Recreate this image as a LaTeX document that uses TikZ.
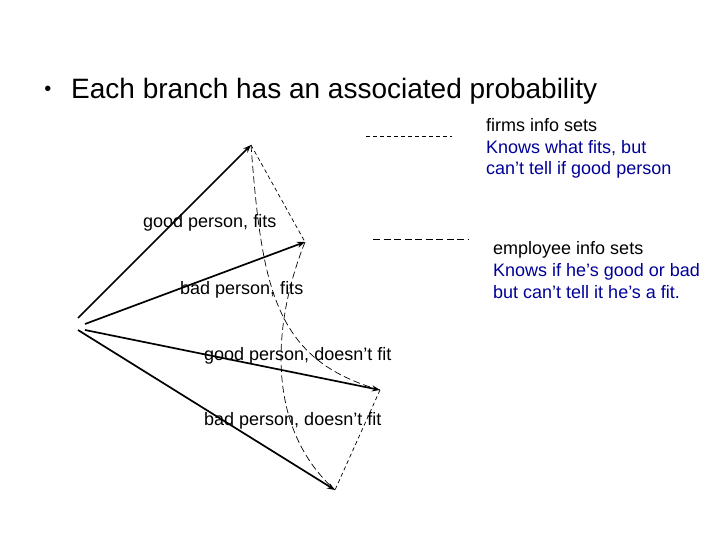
\documentclass[tikz,border=0pt]{standalone}
\usepackage{fontspec}
\setmainfont{Liberation Sans}
\usetikzlibrary{arrows.meta}
\definecolor{legblue}{RGB}{0,0,153}
\begin{document}
\begin{tikzpicture}[x=1bp,y=-1bp,
  branch/.style={line width=1.7bp,-{Stealth[length=8bp,width=6bp]}},
  firmset/.style={line width=0.7bp,dash pattern=on 4bp off 3bp},
  empset/.style={line width=0.7bp,dash pattern=on 7bp off 3.5bp},
  lbl/.style={anchor=base west,inner sep=0pt,font=\fontsize{18bp}{21.5bp}\selectfont},
  leg/.style={lbl,text=legblue}]
\useasboundingbox (0,0) rectangle (720,540);
% title
\node[inner sep=0pt,anchor=base] (bul) at (48,96) {\fontsize{20bp}{20bp}\selectfont •};
\node[anchor=base west,inner sep=0pt,font=\fontsize{28bp}{32bp}\selectfont] (title) at (71,99) {Each branch has an associated probability};
% decision points
\coordinate (r1) at (78,318);
\coordinate (r2) at (85,324);
\coordinate (r3) at (85,330);
\coordinate (r4) at (78,330);
\coordinate (gf) at (251,145);
\coordinate (bf) at (305,242);
\coordinate (gn) at (380,390);
\coordinate (bn) at (335,490);
% branches
\draw[branch] (r1) -- (gf);
\draw[branch] (r2) -- (bf);
\draw[branch] (r3) -- (gn);
\draw[branch] (r4) -- (bn);
% information sets
\draw[firmset] (gf) -- (bf);
\draw[firmset] (gn) -- (bn);
\draw[empset] (gf) .. controls (262,290) and (275,360) .. (gn);
\draw[empset] (bf) .. controls (270,330) and (268,430) .. (bn);
% branch labels
\node[lbl] (l1) at (143,228) {good person, fits};
\node[lbl] (l2) at (180,294) {bad person, fits};
\node[lbl] (l3) at (204,360) {good person, doesn’t fit};
\node[lbl] (l4) at (204,425) {bad person, doesn’t fit};
% legend
\coordinate (fa) at (366,136);
\coordinate (fb) at (452,136);
\coordinate (ea) at (373,239);
\coordinate (eb) at (468,239);
\draw[firmset] (fa) -- (fb);
\draw[empset] (ea) -- (eb);
\node[lbl] (ft1) at (486,132) {firms info sets};
\node[leg] (ft2) at (486,153.5) {Knows what fits, but};
\node[leg] (ft3) at (486,175) {can’t tell if good person};
\node[lbl] (et1) at (493,255) {employee info sets};
\node[leg] (et2) at (493,276.5) {Knows if he’s good or bad};
\node[leg] (et3) at (493,298) {but can’t tell it he’s a fit.};
\end{tikzpicture}
\end{document}
